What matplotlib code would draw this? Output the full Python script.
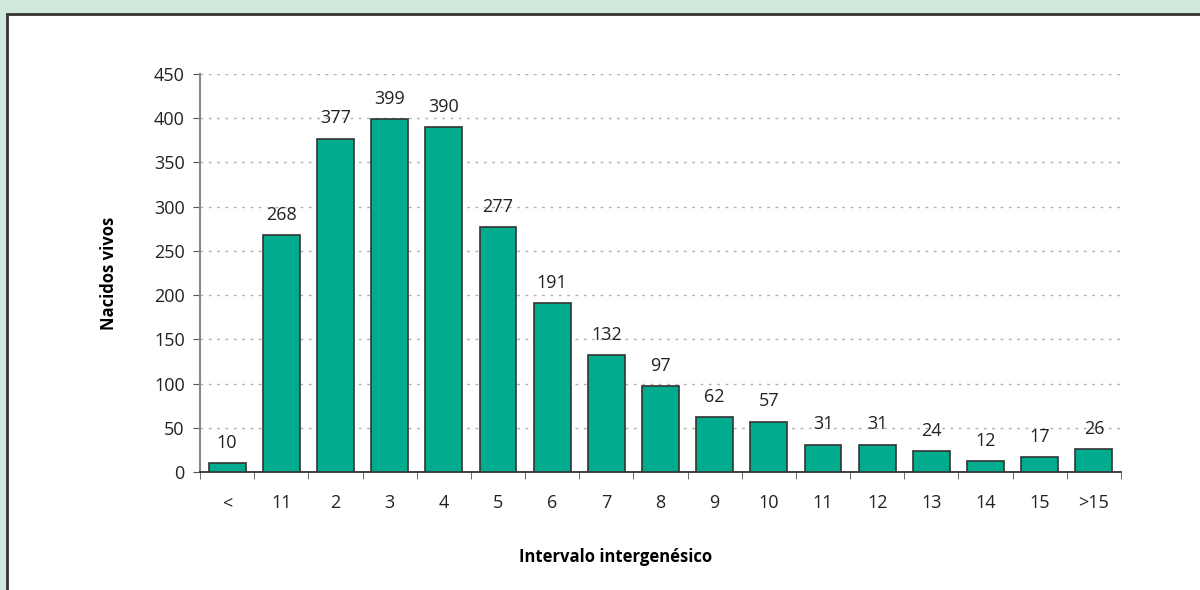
import matplotlib.pyplot as plt
import numpy as np
from matplotlib.patches import Rectangle

categories = ["<", "11", "2", "3", "4", "5", "6", "7", "8", "9", "10",
              "11", "12", "13", "14", "15", ">15"]
nacidos = [10, 268, 377, 399, 390, 277, 191, 132, 97, 62, 57,
           31, 31, 24, 12, 17, 26]

plt.rcParams['font.family'] = ['Open Sans', 'DejaVu Sans']

fig = plt.figure(figsize=(12, 5.9), dpi=100)
fig.patch.set_facecolor('#cfe8db')

# white panel with dark frame
fig.patches.append(Rectangle((7 / 1200, -0.05), 1.1, (590 - 14) / 590 + 0.05,
                             transform=fig.transFigure, facecolor='white',
                             edgecolor='#333333', linewidth=2, zorder=-5))

ax = fig.add_axes([200 / 1200, 1 - 472 / 590, 921 / 1200, 398 / 590])
ax.set_zorder(2)
ax.set_facecolor('white')

x = np.arange(len(categories))
bars = ax.bar(x, nacidos, width=0.68, color='#00ab8e', edgecolor='#333333',
              linewidth=1.2, zorder=3)

for xi, v in zip(x, nacidos):
    ax.annotate(str(v), (xi, v), xytext=(0, 8), textcoords='offset points',
                ha='center', va='bottom', fontsize=13, color='#222222')

ax.set_xlim(-0.5, len(categories) - 0.5)
ax.set_ylim(0, 450)
ax.set_yticks(np.arange(0, 451, 50))
ax.yaxis.grid(True, linestyle=(0, (2, 4)), color='#b0b0b0', linewidth=1)
ax.set_axisbelow(True)

ax.set_xticks(x)
ax.set_xticklabels(categories, fontsize=13, color='#222222')
ax.set_xticks(np.arange(-0.5, len(categories)), minor=True)
ax.tick_params(axis='x', which='major', length=0, pad=16)
ax.tick_params(axis='x', which='minor', length=5, color='#555555')
ax.tick_params(axis='y', length=5, color='#555555', labelsize=13,
               labelcolor='#222222', pad=6)

for s in ['top', 'right']:
    ax.spines[s].set_visible(False)
ax.spines['left'].set_color('#888888')
ax.spines['left'].set_linewidth(1.5)
ax.spines['bottom'].set_color('#222222')
ax.spines['bottom'].set_linewidth(1.2)

ax.set_ylabel("Nacidos vivos", fontsize=12, fontweight='bold', labelpad=26)
ax.set_xlabel("Intervalo intergenésico", fontsize=12, fontweight='bold')
ax.xaxis.set_label_coords((616 - 200) / 921, -(548 - 472) / 398)

fig.savefig("out.png", dpi=100, facecolor=fig.get_facecolor())
